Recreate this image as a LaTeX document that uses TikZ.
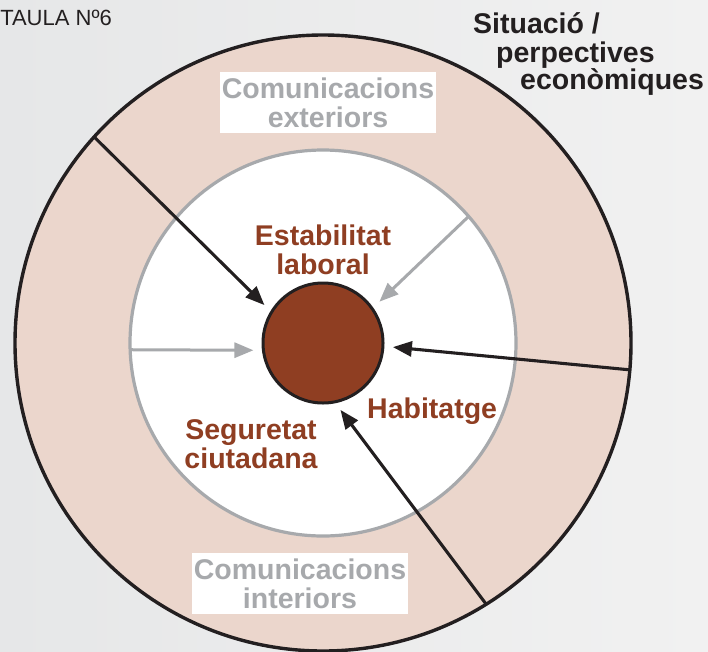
\documentclass[tikz,border=0pt]{standalone}
\usepackage{fontspec}
\setmainfont{Liberation Sans}
\usetikzlibrary{arrows.meta}
\definecolor{bgL}{RGB}{230,231,232}
\definecolor{bgR}{RGB}{241,241,241}
\definecolor{ringfill}{RGB}{235,214,204}
\definecolor{corebrown}{RGB}{143,62,34}
\definecolor{lgray}{RGB}{167,169,172}
\definecolor{dark}{RGB}{35,31,32}
\begin{document}
\begin{tikzpicture}[x=1pt,y=-1pt,
  blk/.style={draw=dark,line width=3.1pt,-{Triangle[length=19pt,width=15pt]},shorten >=10pt},
  gry/.style={draw=lgray,line width=3pt,-{Triangle[length=19pt,width=15pt]},shorten >=10pt},
  whitebox/.style={fill=white,text=lgray,font=\bfseries\fontsize{28.5}{29}\selectfont,align=center,minimum width=216pt,minimum height=61pt,inner sep=0pt},
  browntxt/.style={text=corebrown,font=\bfseries\fontsize{28.5}{29}\selectfont,align=center,inner sep=0pt},
  headtxt/.style={text=dark,font=\bfseries\fontsize{28.5}{31}\selectfont,inner sep=0pt,anchor=base west}]
\useasboundingbox (0,0) rectangle (708,651);
\clip (0,0) rectangle (708,651);
\shade[left color=bgL,right color=bgR] (0,0) rectangle (708,651);
% circles
\node[circle,draw=dark,line width=3.4pt,fill=ringfill,minimum size=616pt,inner sep=0pt,outer sep=0pt] (outer) at (323,343) {};
\node[circle,draw=lgray,line width=3.2pt,fill=white,minimum size=386pt,inner sep=0pt,outer sep=0pt] (inner) at (323,343) {};
\node[circle,draw=dark,line width=3pt,fill=corebrown,minimum size=120pt,inner sep=0pt,outer sep=0pt] (core) at (323,343) {};
% connectors
\draw[blk] (outer.138.8) -- (core.149);
\draw[gry] (inner.41) -- (core.35);
\draw[gry] (inner.182.7) -- (core.187.5);
\draw[blk] (outer.355.3) -- (core.357.5);
\draw[blk] (outer.302) -- (core.281);
% texts
\node[whitebox] (cext) at (328,102.5) {Comunicacions\\exteriors};
\node[whitebox] (cint) at (300,583.5) {Comunicacions\\interiors};
\node[browntxt] (estab) at (323,250) {Estabilitat\\laboral};
\node[browntxt,anchor=base west] (habit) at (367,418) {Habitatge};
\node[browntxt] (segur) at (251,444) {Seguretat\\ciutadana};
\node[headtxt] (sit1) at (473,33) {Situació /};
\node[headtxt] (sit2) at (496,62) {perpectives};
\node[headtxt] (sit3) at (520,89) {econòmiques};
\node[text=dark,font=\fontsize{22}{24}\selectfont,inner sep=0pt,anchor=base east] (taula) at (112,25) {TAULA Nº6};
\end{tikzpicture}
\end{document}
